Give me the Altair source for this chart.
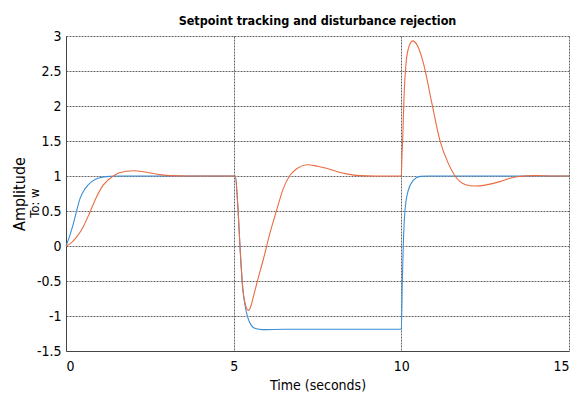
import altair as alt
import pandas as pd

# ---- data ----
blue_t = [0, 0.12, 0.22, 0.32, 0.42, 0.57, 0.77, 1.0, 1.3, 1.6, 5.05, 5.12, 5.2, 5.27,
          5.34, 5.42, 5.52, 5.65, 5.85, 6.5, 10.0, 10.03, 10.06, 10.11, 10.21, 10.36,
          10.56, 10.8, 15.0]
blue_y = [0, 0.16, 0.32, 0.51, 0.68, 0.82, 0.92, 0.975, 0.995, 1.0, 1.0, 0.6, -0.1, -0.6,
          -0.85, -1.02, -1.13, -1.18, -1.195, -1.19, -1.19, -0.49, 0.04, 0.51, 0.80, 0.94,
          0.995, 1.0, 1.0]

orange_t = [0, 0.12, 0.32, 0.52, 0.72, 0.91, 1.11, 1.41, 1.61, 2.0, 2.45, 2.8, 3.1, 3.6,
            5.05, 5.12, 5.2, 5.27, 5.34, 5.44, 5.52, 5.59, 5.72, 5.88, 6.08, 6.28, 6.48,
            6.68, 6.9, 7.2, 7.5, 7.77, 8.1, 8.37, 8.77, 9.2, 10.0, 10.02, 10.04, 10.08,
            10.14, 10.21, 10.34, 10.46, 10.66, 10.91, 11.15, 11.4, 11.6, 11.75, 11.9, 12.2,
            12.5, 12.94, 13.44, 14.0, 14.5, 15.0]
orange_y = [0, 0.03, 0.13, 0.28, 0.49, 0.70, 0.87, 1.0, 1.05, 1.075, 1.05, 1.02, 1.005, 1.0,
            1.0, 0.6, -0.1, -0.6, -0.82, -0.92, -0.85, -0.72, -0.48, -0.2, 0.18, 0.51, 0.82,
            1.01, 1.11, 1.16, 1.14, 1.11, 1.06, 1.03, 1.005, 1.0, 1.0, 1.3, 1.51, 2.13,
            2.61, 2.82, 2.93, 2.88, 2.61, 2.04, 1.51, 1.18, 1.0, 0.92, 0.88, 0.857,
            0.87, 0.92, 0.99, 1.005, 1.0, 1.0]

x_ticks = [0, 5, 10, 15]
y_ticks = [-1.5, -1, -0.5, 0, 0.5, 1, 1.5, 2, 2.5, 3]
title_text = "Setpoint tracking and disturbance rejection"
x_title = "Time (seconds)"
y_title = ["Amplitude"]
y_subtitle = ["To: w"]

FONT = "Liberation Sans Narrow, Arial Narrow, DejaVu Sans Condensed, Liberation Sans"

rows = []
for i, (t, y) in enumerate(zip(blue_t, blue_y)):
    rows.append({"series": "blue", "t": t, "y": y, "i": i})
for i, (t, y) in enumerate(zip(orange_t, orange_y)):
    rows.append({"series": "orange", "t": t, "y": y, "i": i})
df = pd.DataFrame(rows)

lines = alt.Chart(df).mark_line(strokeWidth=1.1, interpolate="monotone").encode(
    x=alt.X("t:Q", scale=alt.Scale(domain=[0, 15], nice=False),
            axis=alt.Axis(values=x_ticks, title=x_title, labelPadding=8,
                          titlePadding=5, titleFontSize=14, titleFontWeight="normal")),
    y=alt.Y("y:Q", scale=alt.Scale(domain=[-1.5, 3], nice=False),
            axis=alt.Axis(values=y_ticks, title=None, labelPadding=5,
                          labelExpr="(datum.value < 0 ? '-' : '') + format(abs(datum.value), '~g')")),
    color=alt.Color("series:N", scale=alt.Scale(domain=["blue", "orange"],
                                                range=["#3a8ed6", "#ea6c40"]), legend=None),
    order="i:Q",
)

amp = alt.Chart(pd.DataFrame({"label": y_title})).mark_text(
    angle=270, fontSize=16, font=FONT, color="#000", align="center", baseline="middle"
).encode(text="label:N", x=alt.value(-46), y=alt.value(158))

tow = alt.Chart(pd.DataFrame({"label": y_subtitle})).mark_text(
    angle=270, fontSize=13, font=FONT, color="#000", align="center", baseline="middle"
).encode(text="label:N", x=alt.value(-31), y=alt.value(167))

chart = alt.layer(lines, amp, tow).properties(
    width=503, height=315,
    title=alt.TitleParams(title_text, fontSize=12.5, fontWeight="bold", font=FONT,
                          anchor="middle", offset=2, color="#000"),
    autosize=alt.AutoSizeParams(type="none"),
    padding={"left": 58, "top": 28, "right": 4, "bottom": 44},
).configure_view(stroke=None).configure_axis(
    labelFont=FONT, titleFont=FONT, labelFontSize=14, labelColor="#000", titleColor="#000",
    domainColor="#444", domainWidth=1, ticks=False,
    grid=True, gridColor="#555", gridDash=[2, 1], gridOpacity=0.9, gridWidth=1,
)

chart.save("out.html", embed_options={"renderer": "svg", "actions": False})
